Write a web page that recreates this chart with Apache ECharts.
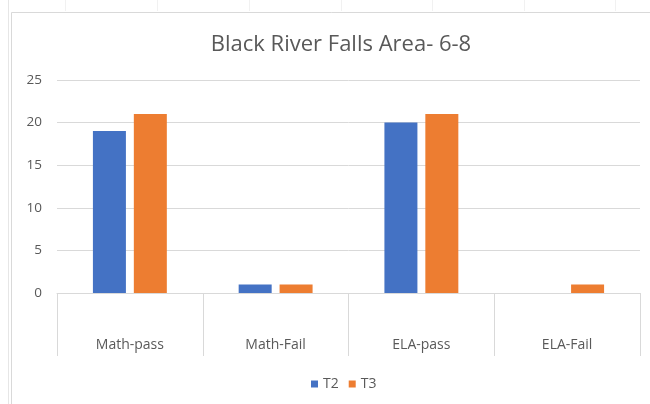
<!DOCTYPE html>
<html>
<head>
<meta charset="utf-8">
<script src="https://cdn.jsdelivr.net/npm/echarts@6/dist/echarts.min.js"></script>
<style>
  html, body { margin: 0; padding: 0; background: #ffffff; }
  #chart { width: 650px; height: 404px; }
</style>
</head>
<body>
<div id="chart"></div>
<script>
// Test results by outcome category, two terms
const categories = ['Math-pass', 'Math-Fail', 'ELA-pass', 'ELA-Fail'];
const seriesNames = ['T2', 'T3'];
const t2Values = [19, 1, 20, 0];
const t3Values = [21, 1, 21, 1];
const yTicks = { min: 0, max: 25, step: 5 };

const FONT = '"Open Sans", sans-serif';
const TEXT = '#595959';
const LINE = '#d9d9d9';

// faint worksheet column marks above the chart frame
const sheetMarks = [65, 157, 249, 341, 432, 524, 615].map(function (x) {
  return { type: 'line', silent: true, z: -1, shape: { x1: x + 0.5, y1: 0, x2: x + 0.5, y2: 11 }, style: { stroke: '#f1f1f1', lineWidth: 1 } };
});

const chart = echarts.init(document.getElementById('chart'), null, { renderer: 'canvas' });

chart.setOption({
  backgroundColor: '#ffffff',
  animation: false,
  title: {
    text: 'Black River Falls Area- 6-8',
    left: 336,
    textAlign: 'center',
    top: 29,
    textStyle: { fontFamily: FONT, fontSize: 22, fontWeight: 'normal', color: TEXT }
  },
  graphic: sheetMarks.concat([
    // sheet cell edge on the far left and the chart frame
    { type: 'line', silent: true, z: -1, shape: { x1: 8.5, y1: 0, x2: 8.5, y2: 404 }, style: { stroke: '#e6e6e6', lineWidth: 1 } },
    { type: 'rect', silent: true, z: -1, shape: { x: 11.5, y: 12.5, width: 660, height: 420 }, style: { fill: 'none', stroke: LINE, lineWidth: 1 } }
  ]),
  legend: {
    data: seriesNames,
    top: 372,
    left: 306,
    icon: 'rect',
    itemWidth: 7,
    itemHeight: 7,
    itemGap: 10,
    textStyle: { fontFamily: FONT, fontSize: 14, color: TEXT }
  },
  grid: { left: 57, right: 10, top: 80, bottom: 111 },
  xAxis: {
    type: 'category',
    data: categories,
    axisLine: { show: true, lineStyle: { color: LINE } },
    axisTick: { show: true, length: 63, lineStyle: { color: LINE } },
    axisLabel: { margin: 45, fontFamily: FONT, fontSize: 14, color: TEXT }
  },
  yAxis: {
    type: 'value',
    min: yTicks.min,
    max: yTicks.max,
    interval: yTicks.step,
    axisLine: { show: false },
    axisTick: { show: false },
    splitLine: { lineStyle: { color: LINE } },
    axisLabel: { margin: 15, fontFamily: FONT, fontSize: 13.5, color: TEXT }
  },
  series: [
    { name: seriesNames[0], type: 'bar', data: t2Values, barWidth: 33, barGap: '24%', itemStyle: { color: '#4472c4' } },
    { name: seriesNames[1], type: 'bar', data: t3Values, barWidth: 33, barGap: '24%', itemStyle: { color: '#ed7d31' } }
  ]
});
</script>
</body>
</html>
